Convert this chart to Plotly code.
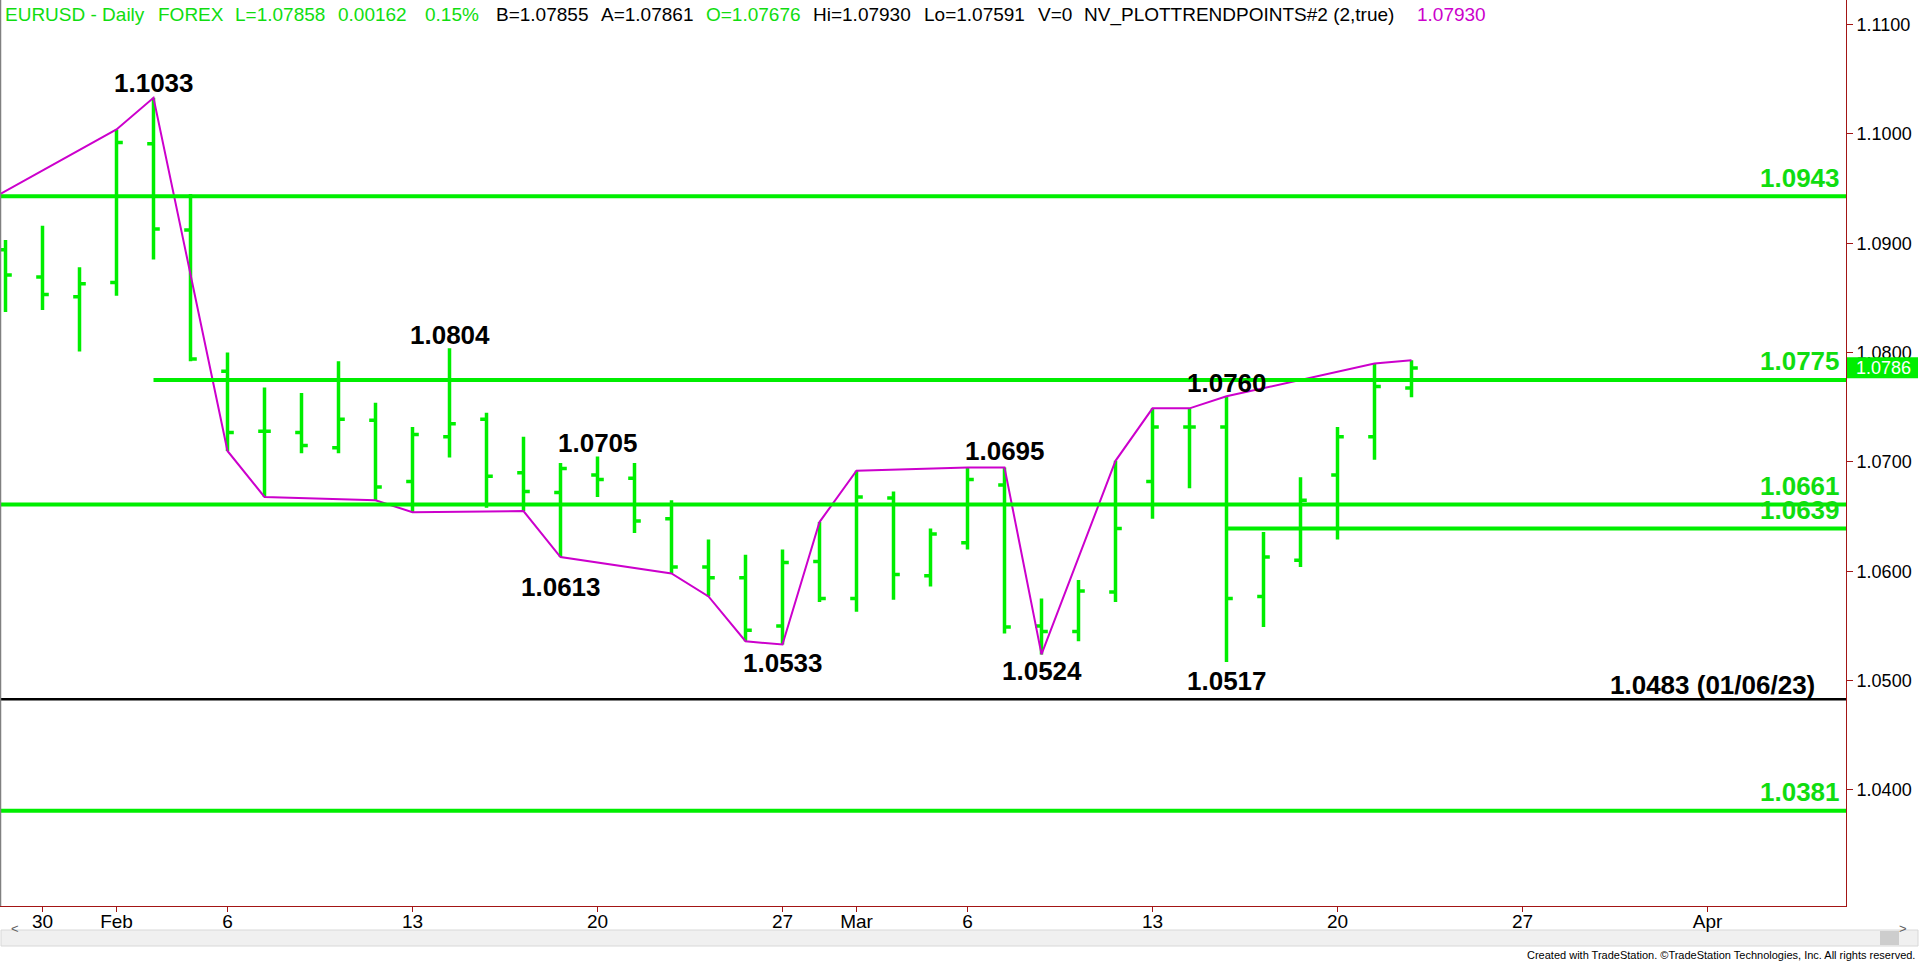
import numpy as np
import plotly.graph_objects as go

# ---------------- data ----------------
dates = ["2023-01-27", "2023-01-30", "2023-01-31", "2023-02-01", "2023-02-02", "2023-02-03",
         "2023-02-06", "2023-02-07", "2023-02-08", "2023-02-09", "2023-02-10",
         "2023-02-13", "2023-02-14", "2023-02-15", "2023-02-16", "2023-02-17",
         "2023-02-20", "2023-02-21", "2023-02-22", "2023-02-23", "2023-02-24",
         "2023-02-27", "2023-02-28", "2023-03-01", "2023-03-02", "2023-03-03",
         "2023-03-06", "2023-03-07", "2023-03-08", "2023-03-09", "2023-03-10",
         "2023-03-13", "2023-03-14", "2023-03-15", "2023-03-16", "2023-03-17",
         "2023-03-20", "2023-03-21", "2023-03-22"]
opens = [1.0894, 1.0869, 1.0851, 1.0864, 1.0991, 1.0912,
         1.0783, 1.0728, 1.0727, 1.0713, 1.0738,
         1.0682, 1.0723, 1.0739, 1.0690, 1.0672,
         1.0688, 1.0685, 1.0648, 1.0604, 1.0594,
         1.0550, 1.0609, 1.0575, 1.0667, 1.0596,
         1.0626, 1.0679, 1.0550, 1.0545, 1.0581,
         1.0682, 1.0732, 1.0732, 1.0577, 1.0610,
         1.0688, 1.0723, 1.07676]
highs = [1.0903, 1.0916, 1.0878, 1.1004, 1.1033, 1.0945,
         1.0800, 1.0768, 1.0763, 1.0792, 1.0754,
         1.0732, 1.0804, 1.0745, 1.0723, 1.0699,
         1.0705, 1.0699, 1.0665, 1.0629, 1.0615,
         1.0620, 1.0645, 1.0692, 1.0673, 1.0639,
         1.0695, 1.0695, 1.0575, 1.0592, 1.0701,
         1.0749, 1.0749, 1.0760, 1.0636, 1.0686,
         1.0732, 1.0790, 1.07930]
lows = [1.0837, 1.0839, 1.0801, 1.0852, 1.0885, 1.0792,
        1.0710, 1.0668, 1.0708, 1.0708, 1.0665,
        1.0654, 1.0704, 1.0658, 1.0655, 1.0613,
        1.0668, 1.0635, 1.0598, 1.0577, 1.0536,
        1.0533, 1.0572, 1.0563, 1.0574, 1.0586,
        1.0620, 1.0543, 1.0524, 1.0536, 1.0572,
        1.0648, 1.0676, 1.0517, 1.0549, 1.0604,
        1.0629, 1.0702, 1.07591]
closes = [1.0871, 1.0853, 1.0863, 1.0992, 1.0913, 1.0794,
          1.0727, 1.0728, 1.0715, 1.0739, 1.0677,
          1.0725, 1.0735, 1.0687, 1.0673, 1.0694,
          1.0684, 1.0646, 1.0604, 1.0594, 1.0546,
          1.0608, 1.0575, 1.0668, 1.0597, 1.0634,
          1.0684, 1.0549, 1.0545, 1.0582, 1.0639,
          1.0732, 1.0732, 1.0575, 1.0613, 1.0665,
          1.0723, 1.0769, 1.07858]

# trend-points line (NV_PLOTTRENDPOINTS)
trend_dates = ["2023-01-26", "2023-02-01", "2023-02-02", "2023-02-06", "2023-02-07", "2023-02-10",
               "2023-02-13", "2023-02-16", "2023-02-17", "2023-02-22", "2023-02-23", "2023-02-24",
               "2023-02-27", "2023-02-28", "2023-03-01", "2023-03-06", "2023-03-07", "2023-03-08",
               "2023-03-10", "2023-03-13", "2023-03-14", "2023-03-15", "2023-03-21", "2023-03-22"]
trend_prices = [1.0929, 1.1004, 1.1033, 1.0710, 1.0668, 1.0665,
                1.0654, 1.0655, 1.0613, 1.0598, 1.0577, 1.0536,
                1.0533, 1.0645, 1.0692, 1.0695, 1.0695, 1.0524,
                1.0701, 1.0749, 1.0749, 1.0760, 1.0790, 1.0793]

# swing labels
swing_dates = ["2023-02-02", "2023-02-14", "2023-02-20", "2023-02-17", "2023-02-27",
               "2023-03-07", "2023-03-08", "2023-03-15", "2023-03-15"]
swing_values = [1.1033, 1.0804, 1.0705, 1.0613, 1.0533, 1.0695, 1.0524, 1.0760, 1.0517]

# horizontal levels
green_levels = [1.0943, 1.0775, 1.0661, 1.0639, 1.0381]
green_level_starts = [None, "2023-02-02", None, "2023-03-15", None]
black_level = 1.0483
black_level_label = "1.0483 (01/06/23)"

last_price = 1.0786

y_ticks = [1.04, 1.05, 1.06, 1.07, 1.08, 1.09, 1.10, 1.11]
x_tick_dates = ["2023-01-30", "2023-02-01", "2023-02-06", "2023-02-13", "2023-02-20", "2023-02-27",
                "2023-03-01", "2023-03-06", "2023-03-13", "2023-03-20", "2023-03-27", "2023-04-03"]
x_tick_labels = ["30", "Feb", "6", "13", "20", "27", "Mar", "6", "13", "20", "27", "Apr"]

header_tokens = ["EURUSD - Daily", "FOREX", "L=1.07858", "0.00162", "0.15%", "B=1.07855",
                 "A=1.07861", "O=1.07676", "Hi=1.07930", "Lo=1.07591", "V=0",
                 "NV_PLOTTRENDPOINTS#2 (2,true)", "1.07930"]

# ---------------- styles / layout ----------------
W, H = 1920, 963
PLOT_R = 1846          # right edge of plot area (px)
PLOT_B = 906           # bottom edge of plot area (px)
GREEN = "#00EE00"
GREEN_TXT = "#10DD10"
MAGENTA = "#CC00CC"
AXIS = "#A31515"
FONT = "Liberation Sans, Arial, sans-serif"
NARROW = "Liberation Sans Narrow, Arial Narrow, Liberation Sans, Arial, sans-serif"

header_x_px = [2.5, 155.5, 233, 336, 422.5, 493.5, 599, 704, 811, 922, 1035.5, 1081.5, 1414.5]
header_colors = ["g", "g", "g", "g", "g", "k", "k", "g", "k", "k", "k", "k", "m"]
swing_shift = [15, 13.5, 13.5, -30, -18, 16, -17, 13.5, -18.5]

base = np.datetime64(dates[0])


def idx(d):
    d = np.datetime64(d)
    return int(np.busday_count(base, d)) if d >= base else -int(np.busday_count(d, base))


x = [idx(d) for d in dates]
x_left, x_right = -5.5 / 37.0, (PLOT_R - 5.5) / 37.0
y_top, y_bot = 1.11224, 1.02939


def px_x(px):
    return px / PLOT_R


def px_y(py):
    return (PLOT_B - py) / PLOT_B


fig = go.Figure()
fig.add_trace(go.Ohlc(
    x=x, open=opens, high=highs, low=lows, close=closes,
    increasing=dict(line=dict(color=GREEN, width=3.5)),
    decreasing=dict(line=dict(color=GREEN, width=3.5)),
    tickwidth=0.17, hoverinfo="skip", showlegend=False))

fig.add_trace(go.Scatter(
    x=[idx(d) for d in trend_dates], y=trend_prices, mode="lines",
    line=dict(color=MAGENTA, width=2), hoverinfo="skip", showlegend=False))

shapes = []
annotations = []

for lv, st in zip(green_levels, green_level_starts):
    x0 = x_left if st is None else idx(st)
    shapes.append(dict(type="line", xref="x", yref="y", x0=x0, x1=x_right, y0=lv, y1=lv,
                       line=dict(color=GREEN, width=4), layer="above"))
    annotations.append(dict(xref="paper", yref="y", x=px_x(1842), y=lv, xanchor="right",
                            yanchor="middle", yshift=18.5, showarrow=False,
                            text="<b>%.4f</b>" % lv,
                            font=dict(family=FONT, size=26, color=GREEN_TXT)))

shapes.append(dict(type="line", xref="x", yref="y", x0=x_left, x1=x_right, y0=black_level,
                   y1=black_level, line=dict(color="black", width=2.5), layer="above"))
annotations.append(dict(xref="paper", yref="y", x=px_x(1817), y=black_level, xanchor="right",
                        yanchor="middle", yshift=14, showarrow=False,
                        text="<b>%s</b>" % black_level_label,
                        font=dict(family=FONT, size=26, color="black")))

for d, v, s in zip(swing_dates, swing_values, swing_shift):
    annotations.append(dict(xref="x", yref="y", x=idx(d), y=v, xanchor="center",
                            yanchor="middle", yshift=s, showarrow=False,
                            text="<b>%.4f</b>" % v,
                            font=dict(family=FONT, size=26, color="black")))

cmap = {"g": GREEN_TXT, "k": "black", "m": MAGENTA}
for t, xp, c in zip(header_tokens, header_x_px, header_colors):
    annotations.append(dict(xref="paper", yref="paper", x=px_x(xp), y=px_y(15),
                            xanchor="left", yanchor="middle", showarrow=False, text=t,
                            font=dict(family=FONT, size=19, color=cmap[c])))

# last price box on the price axis
shapes.append(dict(type="rect", xref="paper", yref="y", x0=px_x(1847), x1=px_x(1918),
                   y0=last_price - 10.5 / 10936, y1=last_price + 10.5 / 10936,
                   fillcolor=GREEN, line=dict(width=0), layer="above"))
annotations.append(dict(xref="paper", yref="y", x=px_x(1883), y=last_price, xanchor="center",
                        yanchor="middle", showarrow=False, text="%.4f" % last_price,
                        font=dict(family=FONT, size=18, color="white")))

# left border
shapes.append(dict(type="line", xref="paper", yref="paper", x0=px_x(0.5), x1=px_x(0.5),
                   y0=0, y1=1, line=dict(color="#808080", width=1.5)))
# scrollbar
shapes.append(dict(type="rect", xref="paper", yref="paper", x0=px_x(1), x1=px_x(1918),
                   y0=px_y(930), y1=px_y(946), fillcolor="#F0F0F0",
                   line=dict(color="#D8D8D8", width=1), layer="below"))
shapes.append(dict(type="rect", xref="paper", yref="paper", x0=px_x(1880), x1=px_x(1899),
                   y0=px_y(931), y1=px_y(945), fillcolor="#CDCDCD", line=dict(width=0),
                   layer="below"))
annotations.append(dict(xref="paper", yref="paper", x=px_x(9), y=px_y(938), showarrow=False,
                        text="&lt;", font=dict(family=FONT, size=13, color="#606060")))
annotations.append(dict(xref="paper", yref="paper", x=px_x(1909), y=px_y(938), showarrow=False,
                        text="&gt;", font=dict(family=FONT, size=13, color="#606060")))
annotations.append(dict(xref="paper", yref="paper", x=px_x(1917), y=px_y(955),
                        xanchor="right", yanchor="middle", showarrow=False,
                        text="Created with TradeStation. ©TradeStation Technologies, Inc. All rights reserved.",
                        font=dict(family=NARROW, size=11, color="black")))

fig.update_layout(
    width=W, height=H,
    margin=dict(l=0, r=W - PLOT_R, t=0, b=H - PLOT_B, pad=0),
    paper_bgcolor="white", plot_bgcolor="white",
    shapes=shapes, annotations=annotations, showlegend=False,
    xaxis=dict(range=[x_left, x_right], rangeslider=dict(visible=False),
               tickmode="array", tickvals=[idx(d) for d in x_tick_dates], ticktext=x_tick_labels,
               showgrid=False, zeroline=False, showline=True, linecolor=AXIS, linewidth=1,
               ticks="outside", ticklen=5, tickcolor=AXIS, tickwidth=1,
               ticklabelstandoff=-7,
               tickfont=dict(family=NARROW, size=19, color="black")),
    yaxis=dict(range=[y_bot, y_top], side="right", tickmode="array", tickvals=y_ticks,
               ticktext=["%.4f" % v for v in y_ticks],
               showgrid=False, zeroline=False, showline=True, linecolor=AXIS, linewidth=1,
               ticks="outside", ticklen=6, tickcolor=AXIS, tickwidth=1,
               tickfont=dict(family=FONT, size=18, color="black")),
)

fig.write_html("out.html", config={"displayModeBar": False},
               post_script="document.body.style.margin='0';document.body.style.overflow='hidden';")
